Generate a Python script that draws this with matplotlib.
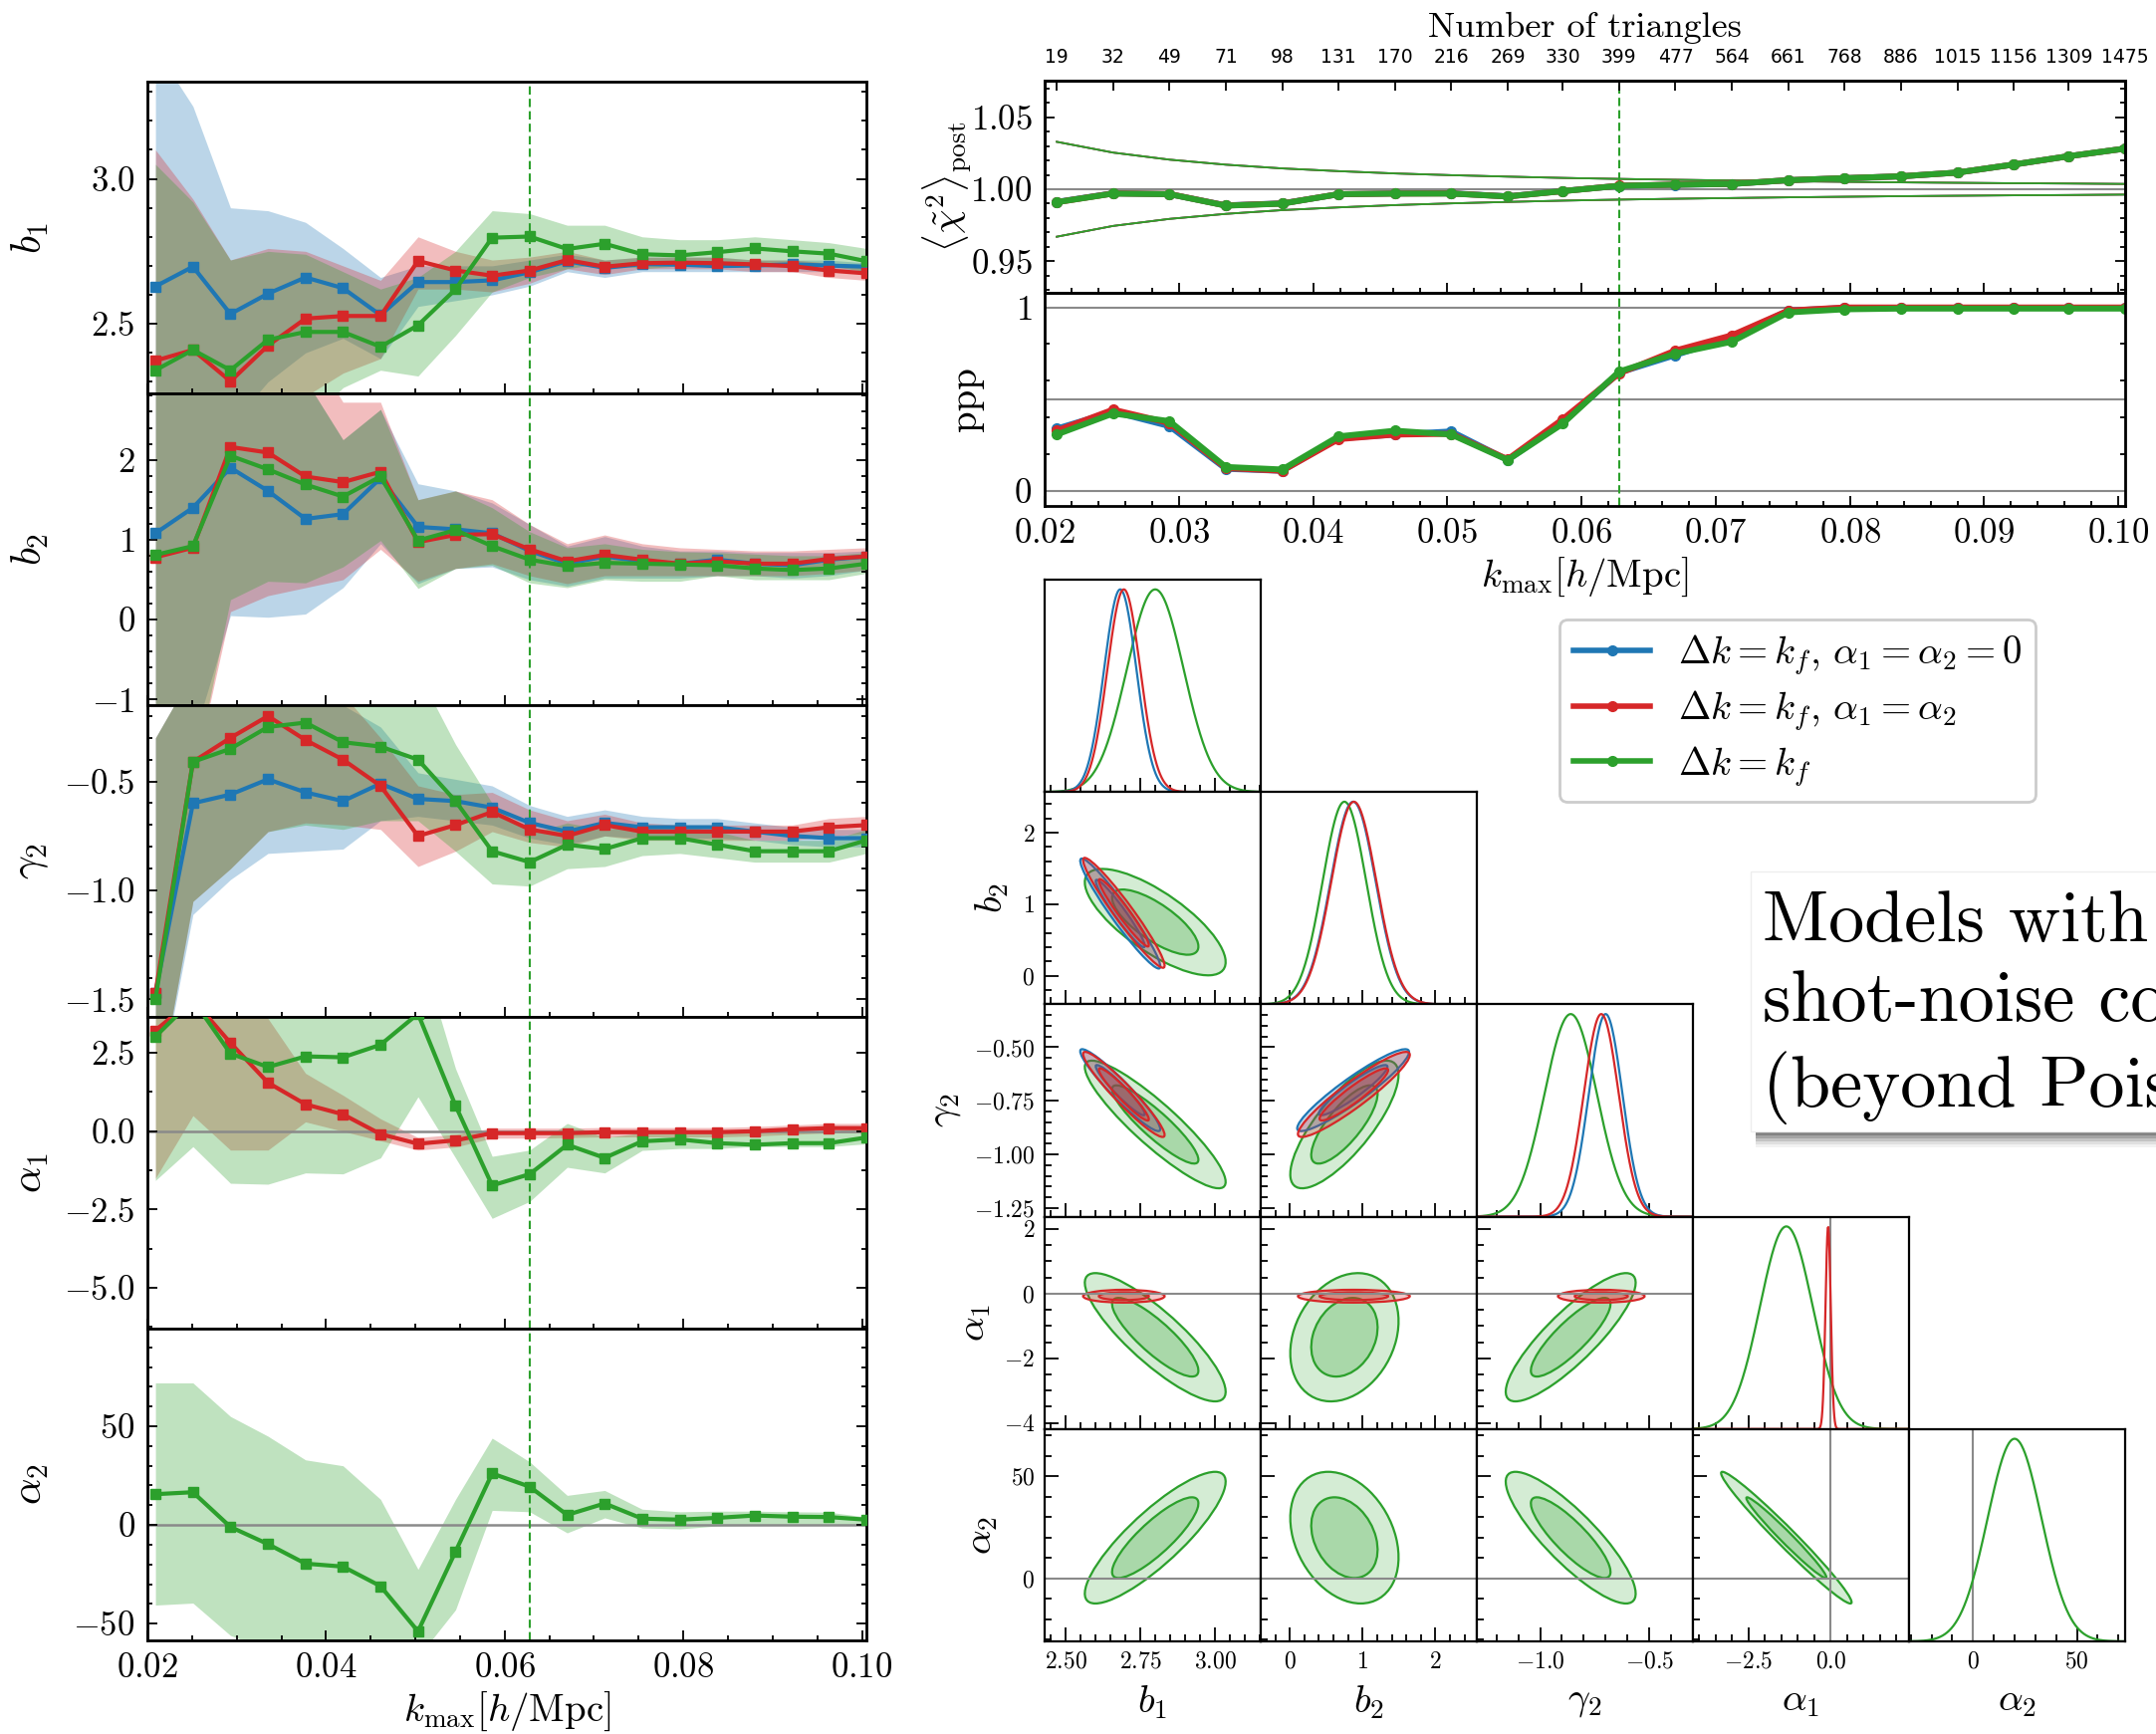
import numpy as np
import matplotlib
matplotlib.use('Agg')
import matplotlib.pyplot as plt
from matplotlib.patches import Ellipse, Rectangle
from matplotlib.lines import Line2D
from matplotlib.ticker import AutoMinorLocator, MultipleLocator, FixedLocator

plt.rcParams.update({
    'mathtext.fontset': 'cm',
    'font.family': 'serif',
    'font.serif': ['cmr10'],
    'axes.formatter.use_mathtext': True,
    'axes.unicode_minus': True,
})

# ---------------- data ----------------
kmax = [0.0209, 0.0251, 0.0293, 0.0335, 0.0377, 0.0419, 0.0461, 0.0503, 0.0545, 0.0586,
        0.0628, 0.0670, 0.0712, 0.0754, 0.0796, 0.0838, 0.0880, 0.0922, 0.0963, 0.1005]
n_triangles = [19, 32, 49, 71, 98, 131, 170, 216, 269, 330,
               399, 477, 564, 661, 768, 886, 1015, 1156, 1309, 1475]
kmax_ref = 0.0628

# b1
b1_blue = [2.629, 2.697, 2.534, 2.604, 2.660, 2.623, 2.530, 2.644, 2.644, 2.650,
           2.678, 2.716, 2.693, 2.706, 2.704, 2.699, 2.701, 2.705, 2.701, 2.697]
b1_blue_lo = [1.80, 2.05, 2.15, 2.30, 2.40, 2.45, 2.38, 2.56, 2.58, 2.60,
              2.63, 2.68, 2.66, 2.68, 2.68, 2.68, 2.68, 2.68, 2.68, 2.68]
b1_blue_hi = [3.45, 3.25, 2.90, 2.89, 2.85, 2.76, 2.66, 2.70, 2.70, 2.70,
              2.72, 2.74, 2.72, 2.73, 2.73, 2.73, 2.72, 2.72, 2.72, 2.71]
b1_red = [2.373, 2.410, 2.302, 2.425, 2.518, 2.527, 2.527, 2.717, 2.684, 2.666,
          2.684, 2.720, 2.697, 2.709, 2.711, 2.709, 2.705, 2.699, 2.684, 2.674]
b1_red_lo = [1.70, 1.80, 1.90, 2.10, 2.25, 2.33, 2.38, 2.62, 2.62, 2.61,
             2.64, 2.69, 2.67, 2.69, 2.69, 2.69, 2.68, 2.68, 2.66, 2.65]
b1_red_hi = [3.10, 2.93, 2.72, 2.76, 2.75, 2.70, 2.65, 2.80, 2.75, 2.72,
             2.73, 2.75, 2.72, 2.73, 2.73, 2.73, 2.72, 2.72, 2.71, 2.70]
b1_green = [2.340, 2.410, 2.340, 2.445, 2.472, 2.472, 2.421, 2.495, 2.619, 2.797,
            2.801, 2.758, 2.776, 2.740, 2.736, 2.747, 2.760, 2.750, 2.742, 2.716]
b1_green_lo = [1.70, 1.80, 1.90, 2.00, 2.15, 2.28, 2.34, 2.32, 2.46, 2.61,
               2.66, 2.69, 2.71, 2.69, 2.70, 2.70, 2.71, 2.70, 2.70, 2.68]
b1_green_hi = [3.05, 2.92, 2.72, 2.75, 2.74, 2.68, 2.62, 2.66, 2.75, 2.89,
               2.88, 2.84, 2.84, 2.80, 2.79, 2.79, 2.80, 2.79, 2.78, 2.76]

# b2
b2_blue = [1.08, 1.40, 1.90, 1.61, 1.26, 1.32, 1.77, 1.16, 1.13, 1.08,
           0.86, 0.70, 0.79, 0.73, 0.70, 0.75, 0.70, 0.68, 0.75, 0.79]
b2_blue_lo = [-1.8, -1.5, 0.05, 0.03, 0.07, 0.40, 0.95, 0.45, 0.64, 0.66,
              0.50, 0.42, 0.52, 0.52, 0.52, 0.55, 0.55, 0.52, 0.55, 0.62]
b2_blue_hi = [3.5, 3.5, 3.5, 3.3, 3.0, 2.25, 2.63, 1.70, 1.61, 1.46,
              1.19, 0.92, 1.04, 0.92, 0.86, 0.86, 0.84, 0.84, 0.84, 0.86]
b2_red = [0.78, 0.90, 2.16, 2.09, 1.79, 1.72, 1.85, 0.97, 1.06, 1.07,
          0.88, 0.73, 0.81, 0.75, 0.70, 0.73, 0.70, 0.70, 0.76, 0.79]
b2_red_lo = [-2.0, -2.0, 0.10, 0.30, 0.40, 0.50, 0.88, 0.48, 0.64, 0.70,
             0.55, 0.45, 0.55, 0.55, 0.55, 0.55, 0.55, 0.55, 0.58, 0.62]
b2_red_hi = [3.5, 3.5, 3.5, 3.5, 3.5, 2.72, 2.72, 1.50, 1.61, 1.50,
             1.19, 0.95, 1.06, 0.95, 0.90, 0.88, 0.86, 0.86, 0.88, 0.90]
b2_green = [0.81, 0.92, 2.05, 1.88, 1.69, 1.54, 1.79, 0.99, 1.12, 0.92,
            0.75, 0.67, 0.71, 0.70, 0.69, 0.68, 0.64, 0.62, 0.64, 0.70]
b2_green_lo = [-2.0, -2.0, 0.25, 0.48, 0.46, 0.66, 0.99, 0.39, 0.64, 0.68,
               0.46, 0.40, 0.50, 0.48, 0.48, 0.55, 0.50, 0.50, 0.50, 0.58]
b2_green_hi = [3.5, 3.5, 3.5, 3.3, 3.0, 2.25, 2.63, 1.50, 1.61, 1.40,
               1.10, 0.90, 0.95, 0.88, 0.85, 0.84, 0.82, 0.80, 0.80, 0.84]

# gamma2
g2_blue = [-1.47, -0.60, -0.56, -0.49, -0.55, -0.59, -0.51, -0.58, -0.59, -0.62,
           -0.69, -0.73, -0.69, -0.71, -0.71, -0.71, -0.73, -0.75, -0.76, -0.76]
g2_blue_lo = [-2.0, -1.11, -0.95, -0.83, -0.82, -0.81, -0.68, -0.66, -0.68, -0.70,
              -0.76, -0.79, -0.75, -0.76, -0.76, -0.76, -0.77, -0.79, -0.80, -0.80]
g2_blue_hi = [-0.3, 0.0, 0.0, 0.0, 0.0, -0.15, -0.25, -0.46, -0.49, -0.52,
              -0.61, -0.66, -0.63, -0.66, -0.67, -0.67, -0.69, -0.71, -0.72, -0.72]
g2_red = [-1.47, -0.41, -0.30, -0.20, -0.31, -0.40, -0.52, -0.75, -0.70, -0.64,
          -0.72, -0.75, -0.70, -0.73, -0.73, -0.73, -0.73, -0.73, -0.71, -0.70]
g2_red_lo = [-2.0, -1.05, -0.90, -0.73, -0.69, -0.70, -0.72, -0.89, -0.82, -0.73,
             -0.78, -0.80, -0.75, -0.77, -0.77, -0.77, -0.77, -0.77, -0.75, -0.74]
g2_red_hi = [-0.3, 0.0, 0.0, 0.0, 0.0, -0.10, -0.30, -0.52, -0.56, -0.55,
             -0.63, -0.68, -0.65, -0.69, -0.70, -0.70, -0.70, -0.70, -0.67, -0.66]
g2_green = [-1.50, -0.41, -0.35, -0.25, -0.23, -0.32, -0.34, -0.40, -0.59, -0.82,
            -0.87, -0.79, -0.81, -0.76, -0.76, -0.79, -0.82, -0.82, -0.82, -0.77]
g2_green_lo = [-2.0, -1.05, -0.90, -0.73, -0.70, -0.72, -0.68, -0.68, -0.82, -0.97,
               -0.98, -0.90, -0.89, -0.84, -0.83, -0.85, -0.87, -0.87, -0.87, -0.83]
g2_green_hi = [-0.3, 0.0, 0.0, 0.0, 0.0, 0.0, 0.0, 0.0, -0.33, -0.60,
               -0.74, -0.69, -0.72, -0.70, -0.70, -0.73, -0.77, -0.77, -0.77, -0.72]

# alpha1
a1_red = [3.22, 4.20, 2.82, 1.55, 0.86, 0.54, -0.09, -0.40, -0.29, -0.06,
          -0.06, -0.06, -0.03, -0.03, -0.03, -0.03, 0.00, 0.06, 0.10, 0.10]
a1_red_lo = [-1.5, 0.5, -0.6, -0.6, 0.3, 0.0, -0.3, -0.60, -0.50, -0.22,
             -0.22, -0.20, -0.18, -0.18, -0.18, -0.18, -0.15, -0.10, -0.05, -0.05]
a1_red_hi = [6.0, 6.0, 6.0, 3.6, 1.85, 1.15, 0.40, -0.20, -0.10, 0.10,
             0.10, 0.10, 0.12, 0.12, 0.12, 0.12, 0.15, 0.20, 0.25, 0.25]
a1_green = [3.02, 4.20, 2.48, 2.05, 2.39, 2.36, 2.76, 3.75, 0.82, -1.73,
            -1.37, -0.43, -0.85, -0.32, -0.26, -0.38, -0.43, -0.38, -0.38, -0.20]
a1_green_lo = [-1.57, -0.49, -1.66, -1.69, -1.33, -1.36, -0.85, 1.10, -0.85, -2.78,
               -2.24, -1.15, -1.33, -0.61, -0.55, -0.55, -0.49, -0.49, -0.49, -0.40]
a1_green_hi = [6.0, 6.0, 6.0, 6.0, 6.0, 6.0, 6.0, 6.0, 2.0, -0.8,
               -0.6, 0.25, -0.2, -0.05, 0.0, 0.0, -0.05, 0.0, 0.0, 0.1]

# alpha2
a2_green = [15.6, 16.6, -1.0, -9.7, -19.6, -21.1, -31.0, -53.9, -13.5, 26.1,
            19.4, 5.1, 10.9, 3.2, 2.7, 3.6, 4.8, 4.2, 4.0, 2.7]
a2_green_lo = [-40.6, -39.6, -56.0, -63.0, -65.0, -66.0, -66.0, -67.0, -43.0, 7.4,
               6.7, -4.0, 3.6, -1.5, -2.0, -0.5, -0.2, -0.2, -0.2, 0.4]
a2_green_hi = [72.0, 72.0, 55.0, 45.0, 33.0, 30.0, 13.0, -22.5, 13.0, 44.0,
               32.0, 15.0, 17.5, 8.0, 6.7, 7.0, 7.0, 6.7, 6.5, 4.0]

# goodness of fit
chi2_blue = [0.9912, 0.9972, 0.9966, 0.9888, 0.9902, 0.9965, 0.9971, 0.9972, 0.9951, 0.9988,
             1.0024, 1.0031, 1.0037, 1.0063, 1.0077, 1.0090, 1.0116, 1.0172, 1.0230, 1.0283]
chi2_red = [0.9910, 0.9971, 0.9967, 0.9887, 0.9901, 0.9966, 0.9970, 0.9971, 0.9950, 0.9987,
            1.0025, 1.0032, 1.0038, 1.0063, 1.0077, 1.0090, 1.0116, 1.0172, 1.0230, 1.0283]
chi2_green = [0.9910, 0.9970, 0.9966, 0.9886, 0.9900, 0.9966, 0.9970, 0.9970, 0.9950, 0.9987,
              1.0024, 1.0032, 1.0037, 1.0063, 1.0077, 1.0090, 1.0116, 1.0172, 1.0230, 1.0283]
chi2_err = [0.0330, 0.0255, 0.0206, 0.0171, 0.0145, 0.0126, 0.0110, 0.0098, 0.0088, 0.0079,
            0.0072, 0.0066, 0.0061, 0.0056, 0.0052, 0.0048, 0.0045, 0.0042, 0.0040, 0.0037]
ppp_blue = [0.338, 0.431, 0.352, 0.119, 0.108, 0.285, 0.306, 0.323, 0.167, 0.373,
            0.644, 0.740, 0.838, 0.983, 0.998, 0.998, 0.998, 0.998, 0.998, 0.998]
ppp_red = [0.327, 0.442, 0.369, 0.123, 0.108, 0.281, 0.306, 0.310, 0.171, 0.390,
           0.640, 0.765, 0.848, 0.983, 1.000, 1.000, 1.000, 1.000, 1.000, 1.000]
ppp_green = [0.306, 0.421, 0.379, 0.129, 0.115, 0.296, 0.327, 0.306, 0.167, 0.365,
             0.650, 0.748, 0.813, 0.973, 0.990, 0.994, 0.994, 0.994, 0.994, 0.994]

# posterior summary at kmax_ref (b1, b2, gamma2, alpha1, alpha2)
corner_labels = [r'$b_1$', r'$b_2$', r'$\gamma_2$', r'$\alpha_1$', r'$\alpha_2$']
corner_ranges = [(2.43, 3.153), (-0.40, 2.57), (-1.29, -0.30), (-4.19, 2.38), (-30.8, 73.2)]
corner_xticks = [[2.5, 2.75, 3.0], [0, 1, 2], [-1.0, -0.5], [-2.5, 0.0], [0, 50]]
corner_yticks = [[], [0, 1, 2], [-1.25, -1.0, -0.75, -0.5], [-4, -2, 0, 2], [0, 50]]
green_mean = [2.80, 0.75, -0.86, -1.35, 20.0]
green_std = [0.095, 0.30, 0.12, 0.80, 13.0]
green_corr = [[1.00, -0.75, -0.90, -0.85, 0.85],
              [-0.75, 1.00, 0.78, 0.25, -0.30],
              [-0.90, 0.78, 1.00, 0.85, -0.85],
              [-0.85, 0.25, 0.85, 1.00, -0.98],
              [0.85, -0.30, -0.85, -0.98, 1.00]]
blue_mean = [2.683, 0.87, -0.70]
blue_std = [0.054, 0.31, 0.077]
blue_corr = [[1.00, -0.96, -0.95],
             [-0.96, 1.00, 0.93],
             [-0.95, 0.93, 1.00]]
red_mean = [2.695, 0.88, -0.72, -0.08]
red_std = [0.055, 0.31, 0.080, 0.08]
red_corr = [[1.00, -0.96, -0.95, 0.0],
            [-0.96, 1.00, 0.93, 0.0],
            [-0.95, 0.93, 1.00, 0.0],
            [0.0, 0.0, 0.0, 1.00]]

BLUE, RED, GREEN = '#1f77b4', '#d62728', '#2ca02c'
GRAY = '#8a8a8a'
labels = [r'$\Delta k = k_f,\, \alpha_1 = \alpha_2 = 0$',
          r'$\Delta k = k_f,\, \alpha_1 = \alpha_2$',
          r'$\Delta k = k_f$']

# ---------------- figure ----------------
W, H = 2165, 1741
fig = plt.figure(figsize=(W / 100, H / 100), dpi=100)


def px_box(x0, y0, x1, y1):
    return [x0 / W, 1 - y1 / H, (x1 - x0) / W, (y1 - y0) / H]


def tick_style(ax, major=7, minor=3.5, **kw):
    ax.tick_params(which='both', direction='in', width=1.3, **kw)
    ax.tick_params(which='major', length=major)
    ax.tick_params(which='minor', length=minor)


# left column: parameters vs kmax
left_panels = [
    (r'$b_1$', [(BLUE, b1_blue, b1_blue_lo, b1_blue_hi), (RED, b1_red, b1_red_lo, b1_red_hi),
                (GREEN, b1_green, b1_green_lo, b1_green_hi)], (2.26, 3.335), 0.5, 5, False),
    (r'$b_2$', [(BLUE, b2_blue, b2_blue_lo, b2_blue_hi), (RED, b2_red, b2_red_lo, b2_red_hi),
                (GREEN, b2_green, b2_green_lo, b2_green_hi)], (-1.07, 2.83), 1.0, 5, False),
    (r'$\gamma_2$', [(BLUE, g2_blue, g2_blue_lo, g2_blue_hi), (RED, g2_red, g2_red_lo, g2_red_hi),
                     (GREEN, g2_green, g2_green_lo, g2_green_hi)], (-1.58, -0.15), 0.5, 5, False),
    (r'$\alpha_1$', [(RED, a1_red, a1_red_lo, a1_red_hi),
                     (GREEN, a1_green, a1_green_lo, a1_green_hi)], (-6.3, 3.65), 2.5, 2, True),
    (r'$\alpha_2$', [(GREEN, a2_green, a2_green_lo, a2_green_hi)], (-58.5, 99.5), 50, 5, True),
]

top, step = 82, 313
for i, (lab, series, ylim, ystep, ndiv, zero) in enumerate(left_panels):
    ax = fig.add_axes(px_box(148, top + step * i, 870, top + step * (i + 1)))
    for c, mid, lo, hi in series:
        ax.fill_between(kmax, lo, hi, color=c, alpha=0.3, lw=0)
    if zero:
        ax.axhline(0, color=GRAY, lw=1.8, zorder=1)
    for c, mid, lo, hi in series:
        ax.plot(kmax, mid, color=c, lw=3, marker='s', ms=6.5, zorder=3)
    ax.axvline(kmax_ref, color=GREEN, ls='--', lw=1.5, dashes=(4, 2))
    ax.set_xlim(0.02, 0.1005)
    ax.set_ylim(*ylim)
    ax.xaxis.set_major_locator(MultipleLocator(0.02))
    ax.xaxis.set_minor_locator(AutoMinorLocator(4))
    ax.yaxis.set_major_locator(MultipleLocator(ystep))
    ax.yaxis.set_minor_locator(AutoMinorLocator(ndiv))
    tick_style(ax, right=True, top=False, labelsize=25, pad=9)
    ax.set_ylabel(lab, fontsize=30)
    ax.yaxis.set_label_coords(-0.135, 0.5)
    for s in ax.spines.values():
        s.set_linewidth(2)
    if i < len(left_panels) - 1:
        ax.tick_params(labelbottom=False)
    else:
        ax.set_xlabel(r'$k_{\rm max}[h/{\rm Mpc}]$', fontsize=28, labelpad=4)

# top right: chi2 and ppp
ax_chi = fig.add_axes(px_box(1049, 81, 2134, 294))
ax_ppp = fig.add_axes(px_box(1049, 294, 2134, 508))

ax_chi.axhline(1.0, color=GRAY, lw=1.5)
for c in (BLUE, RED, GREEN):
    ax_chi.plot(kmax, 1 + np.array(chi2_err), color=c, lw=1.3)
    ax_chi.plot(kmax, 1 - np.array(chi2_err), color=c, lw=1.3)
for c, y in ((BLUE, chi2_blue), (RED, chi2_red), (GREEN, chi2_green)):
    ax_chi.plot(kmax, y, color=c, lw=4.3, marker='o', ms=7)
ax_chi.set_ylim(0.928, 1.0755)
ax_chi.yaxis.set_major_locator(MultipleLocator(0.05))
ax_chi.yaxis.set_minor_locator(AutoMinorLocator(5))
ax_chi.set_ylabel(r'$\langle\tilde{\chi}^2\rangle_{\rm post}$', fontsize=28)
ax_chi.yaxis.set_label_coords(-0.066, 0.5)

for v in (0, 0.5, 1):
    ax_ppp.axhline(v, color=GRAY, lw=1.5)
for c, y in ((BLUE, ppp_blue), (RED, ppp_red), (GREEN, ppp_green)):
    ax_ppp.plot(kmax, y, color=c, lw=4.3, marker='o', ms=7)
ax_ppp.set_ylim(-0.084, 1.08)
ax_ppp.yaxis.set_major_locator(FixedLocator([0, 1]))
ax_ppp.yaxis.set_minor_locator(MultipleLocator(0.2))
ax_ppp.set_ylabel('ppp', fontsize=28)
ax_ppp.yaxis.set_label_coords(-0.056, 0.5)
ax_ppp.set_xlabel(r'$k_{\rm max}[h/{\rm Mpc}]$', fontsize=28, labelpad=4)

for ax in (ax_chi, ax_ppp):
    ax.axvline(kmax_ref, color=GREEN, ls='--', lw=1.5, dashes=(4, 2))
    ax.set_xlim(0.02, 0.1005)
    ax.xaxis.set_major_locator(MultipleLocator(0.01))
    ax.xaxis.set_minor_locator(AutoMinorLocator(5))
    tick_style(ax, right=True, top=False, labelsize=25, pad=9)
    for s in ax.spines.values():
        s.set_linewidth(2)
ax_chi.tick_params(labelbottom=False)

ax_top = ax_chi.twiny()
ax_top.set_xlim(ax_chi.get_xlim())
ax_top.set_xticks(kmax)
ax_top.set_xticklabels([str(n) for n in n_triangles], fontfamily='DejaVu Sans', fontsize=13.5)
ax_top.tick_params(axis='x', direction='in', length=7, width=1.3, pad=10)
ax_top.set_xlabel('Number of triangles', fontsize=26, labelpad=8)
for s in ax_top.spines.values():
    s.set_linewidth(2)

# corner plot
cx0, cy0, cw, ch = 1049, 582, 217, 213.2
lev95, lev68 = 2.48, 1.52


def add_ellipses(ax, mx, my, sx, sy, rho, color, a_out, a_in):
    cov = np.array([[sx ** 2, rho * sx * sy], [rho * sx * sy, sy ** 2]])
    vals, vecs = np.linalg.eigh(cov)
    ang = np.degrees(np.arctan2(vecs[1, 1], vecs[0, 1]))
    for k, a in ((lev95, a_out), (lev68, a_in)):
        w, h = 2 * k * np.sqrt(vals[1]), 2 * k * np.sqrt(max(vals[0], 0))
        ax.add_patch(Ellipse((mx, my), w, h, angle=ang, facecolor=color, alpha=a, lw=0))
        ax.add_patch(Ellipse((mx, my), w, h, angle=ang, fill=False, edgecolor=color, lw=1.6))


models = [(GREEN, green_mean, green_std, green_corr, 0.2, 0.25),
          (BLUE, blue_mean, blue_std, blue_corr, 0.25, 0.3),
          (RED, red_mean, red_std, red_corr, 0.25, 0.3)]

for r in range(5):
    for c in range(r + 1):
        ax = fig.add_axes(px_box(cx0 + cw * c, cy0 + ch * r, cx0 + cw * (c + 1), cy0 + ch * (r + 1)))
        ax.set_xlim(*corner_ranges[c])
        if r == c:
            x = np.linspace(*corner_ranges[c], 400)
            if c >= 3:
                ax.axvline(0, color=GRAY, lw=1.5)
            for col, m, s, cr, _, _ in models:
                if c < len(m):
                    ax.plot(x, np.exp(-0.5 * ((x - m[c]) / s[c]) ** 2), color=col, lw=1.6)
            ax.set_ylim(0, 1.048)
            ax.set_yticks([])
        else:
            ax.set_ylim(*corner_ranges[r])
            if r >= 3:
                ax.axhline(0, color=GRAY, lw=1.5)
            if c >= 3:
                ax.axvline(0, color=GRAY, lw=1.5)
            for col, m, s, cr, ao, ai in models:
                if r < len(m):
                    add_ellipses(ax, m[c], m[r], s[c], s[r], cr[r][c], col, ao, ai)
            ax.set_yticks(corner_yticks[r])
            ax.yaxis.set_minor_locator(AutoMinorLocator())
        ax.set_xticks(corner_xticks[c])
        ax.xaxis.set_minor_locator(AutoMinorLocator())
        tick_style(ax, major=10, minor=5, top=False, right=False, labelsize=17, pad=7)
        if r != 4:
            ax.tick_params(labelbottom=False)
        else:
            ax.set_xlabel(corner_labels[c], fontsize=28)
            ax.xaxis.set_label_coords(0.5, -0.2)
        if c != 0 or r == 0:
            ax.tick_params(labelleft=False)
        else:
            ax.set_ylabel(corner_labels[r], fontsize=28, labelpad=8)
        for s in ax.spines.values():
            s.set_linewidth(1.6)

# legend
handles = [Line2D([], [], color=c, lw=4, marker='o', ms=7) for c in (BLUE, RED, GREEN)]
leg = fig.legend(handles, labels, loc='upper left', bbox_to_anchor=(1566 / W, 1 - 622 / H),
                 fontsize=28, frameon=True, fancybox=True, edgecolor='#cccccc', framealpha=1,
                 handlelength=2.0, handletextpad=0.7, labelspacing=0.28, borderpad=0.35,
                 borderaxespad=0)
leg.get_frame().set_linewidth(2)

# annotation box with shadow
bx0, by0, by1 = 1758, 875, 1136
for d, a in ((16, 0.05), (13, 0.08), (10, 0.12), (7, 0.16), (4, 0.2)):
    fig.patches.append(Rectangle(((bx0 + 5) / W, 1 - (by1 + d) / H), (W - bx0) / W, (by1 - by0) / H,
                                 transform=fig.transFigure, facecolor='black', alpha=a, lw=0))
fig.patches.append(Rectangle((bx0 / W, 1 - by1 / H), (W + 20 - bx0) / W, (by1 - by0) / H,
                             transform=fig.transFigure, facecolor='white', edgecolor='#eeeeee', lw=1))
fig.text(1770 / W, 1 - 894 / H, 'Models with additional\nshot-noise contributions\n(beyond Poisson)',
         fontsize=52, linespacing=1.3, va='top', ha='left')

fig.savefig('out.png', dpi=100)
